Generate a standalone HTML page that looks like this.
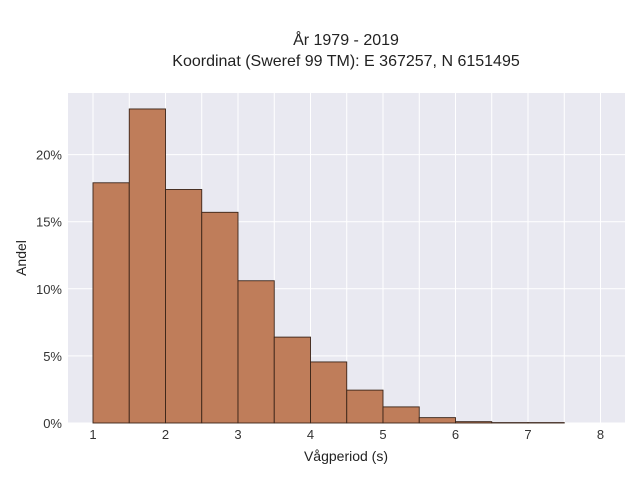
<!DOCTYPE html>
<html><head><meta charset="utf-8"><style>
body{margin:0;background:#fff;}
svg{display:block;font-family:"Liberation Sans",sans-serif;}
</style></head><body>
<svg id="chart" width="640" height="480">
<text x="346" y="45" text-anchor="middle" font-size="16" fill="#222">År 1979 - 2019</text>
<text x="346" y="66" text-anchor="middle" font-size="16" fill="#222">Koordinat (Sweref 99 TM): E 367257, N 6151495</text>
<rect x="68" y="93" width="557" height="330" fill="#e9e9f1"/>
<g id="grid"></g><g id="bars"></g><g id="axes"></g>
<text x="346" y="461" text-anchor="middle" font-size="14" fill="#222">Vågperiod (s)</text>
<text transform="translate(26,258) rotate(-90)" text-anchor="middle" font-size="14" fill="#222">Andel</text>
</svg>
<script>
const binStarts=[1,1.5,2,2.5,3,3.5,4,4.5,5,5.5,6,6.5,7];
const shares=[17.9,23.4,17.4,15.7,10.6,6.4,4.55,2.45,1.2,0.4,0.1,0.03,0.03];
const xTicks=[1,2,3,4,5,6,7,8];
const yTicks=[0,5,10,15,20];
const binWidth=0.5;
const NS="http://www.w3.org/2000/svg";
const xs=v=>93+(v-1)*72.5;
const ys=v=>423-v*13.42;
const grid=document.getElementById('grid'),bars=document.getElementById('bars'),axes=document.getElementById('axes');
function mk(tag,attrs,parent){const e=document.createElementNS(NS,tag);for(const k in attrs)e.setAttribute(k,attrs[k]);parent.appendChild(e);return e;}
for(let v=1;v<=8;v+=0.5){
  const l=mk('line',{x1:xs(v),x2:xs(v),y1:93,y2:423,stroke:'#fff','stroke-width':1},grid);
  
  
}
yTicks.forEach(t=>{
  const l=mk('line',{x1:68,x2:625,y1:ys(t),y2:ys(t),stroke:'#fff','stroke-width':1},grid);
  
  
  const tx=mk('text',{x:62,y:ys(t)+5,'text-anchor':'end','font-size':13,fill:'#333'},axes);
  tx.textContent=t+'%';
  
  
});
xTicks.forEach(t=>{
  const tx=mk('text',{x:xs(t),y:439,'text-anchor':'middle','font-size':13,fill:'#333'},axes);
  tx.textContent=t;
  
  
});
binStarts.forEach((b,i)=>{
  const x0=xs(b),x1=xs(b+binWidth),y=ys(shares[i]);
  const r=mk('rect',{x:x0,y:y,width:x1-x0,height:423-y,fill:'#bf7d5a',stroke:'#3a2418','stroke-width':0.9},bars);
  
  
});
</script>
</body></html>
